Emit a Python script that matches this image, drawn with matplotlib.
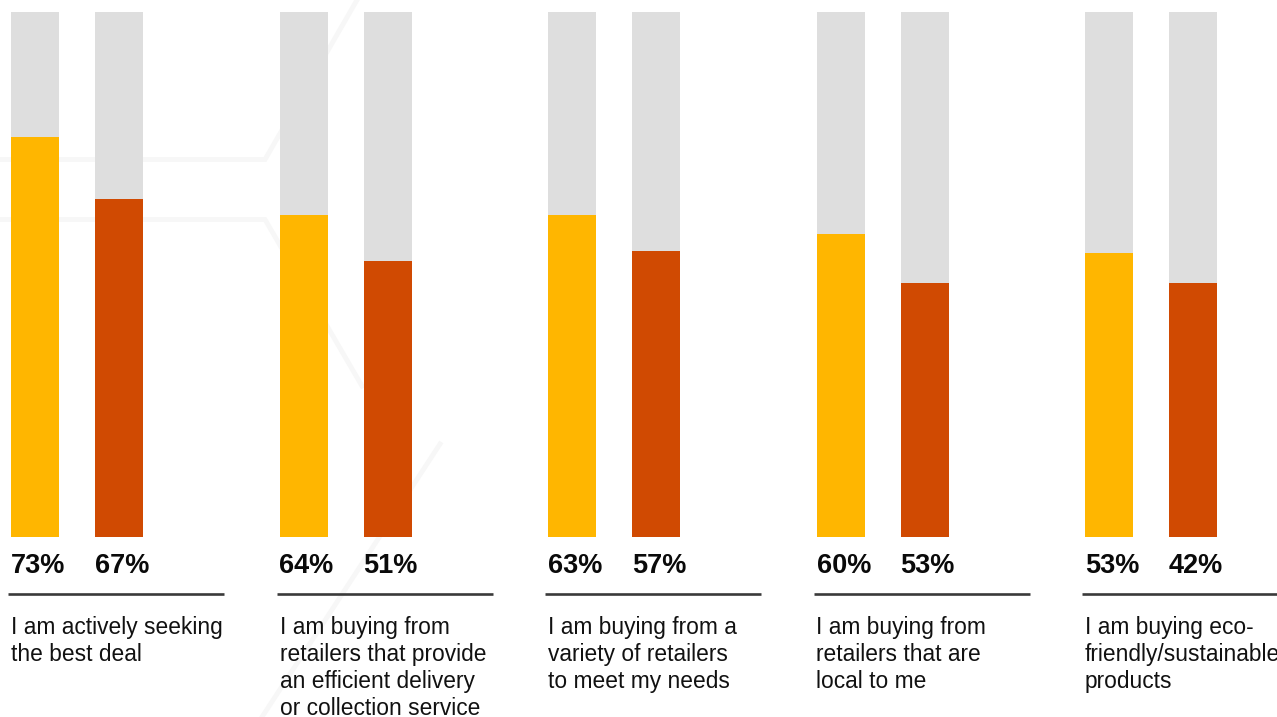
import matplotlib.pyplot as plt
from matplotlib.lines import Line2D
import numpy as np

plt.rcParams['font.family'] = ['Liberation Sans', 'DejaVu Sans']

# categories (description under each group)
categories = [
    "I am actively seeking\nthe best deal",
    "I am buying from\nretailers that provide\nan efficient delivery\nor collection service",
    "I am buying from a\nvariety of retailers\nto meet my needs",
    "I am buying from\nretailers that are\nlocal to me",
    "I am buying eco-\nfriendly/sustainable\nproducts",
]
# printed values
yellow_labels = [73, 64, 63, 60, 53]
red_labels = [67, 51, 57, 53, 42]
# bar heights as drawn in the picture (% of the grey track)
yellow_bar = [76.2, 61.3, 61.3, 57.7, 54.1]
red_bar = [64.4, 52.6, 54.5, 48.4, 48.4]

YELLOW = '#FFB600'
RED = '#D04A02'
GREY = '#DEDEDE'

W, H = 1277, 717
fig = plt.figure(figsize=(W / 100, H / 100), dpi=100)
fig.patch.set_facecolor('white')

# faint hexagon lines in the background (pixel coords, top-left origin)
def bg_line(xs, ys):
    xs = np.array(xs) / W
    ys = 1 - np.array(ys) / H
    fig.add_artist(Line2D(xs, ys, color='#F7F7F7', lw=3.5, zorder=0,
                          solid_joinstyle='miter'))

bg_line([0, 265, 357], [159.5, 159.5, 0])
bg_line([0, 265, 362], [219.5, 219.5, 386])
bg_line([440, 262], [444, 717])

# axes: y from 537px (0) to 12px (100), x in group units
pitch = 268.5
ax = fig.add_axes([0, (H - 537) / H, 1, 525 / H])
ax.set_zorder(1)
ax.patch.set_alpha(0)
ax.set_xlim(-35 / pitch, (W - 35) / pitch)
ax.set_ylim(0, 100)
ax.axis('off')

px = 525 / 100  # pixels per y unit
bw = 48 / pitch
off = 84 / pitch
x = np.arange(len(categories))

ax.bar(x, 100, width=bw, color=GREY, zorder=2)
ax.bar(x + off, 100, width=bw, color=GREY, zorder=2)
ax.bar(x, yellow_bar, width=bw, color=YELLOW, zorder=3)
ax.bar(x + off, red_bar, width=bw, color=RED, zorder=3)

for i in x:
    ax.text(i - bw / 2, -36 / px, f"{yellow_labels[i]}%", fontsize=19.5,
            fontweight='bold', color='#0A0A0A', ha='left', va='baseline',
            clip_on=False)
    ax.text(i + off - bw / 2, -36 / px, f"{red_labels[i]}%", fontsize=19.5,
            fontweight='bold', color='#0A0A0A', ha='left', va='baseline',
            clip_on=False)
    ax.plot([i - 27 / pitch, i + 189 / pitch], [-57 / px, -57 / px],
            color='#3A3A3A', lw=1.9, clip_on=False, solid_capstyle='butt')
    for k, line in enumerate(categories[i].split('\n')):
        ax.text(i - bw / 2, (-97 - 27 * k) / px, line, fontsize=16.4,
                color='#111111', ha='left', va='baseline', clip_on=False)

fig.savefig('out.png', dpi=100, facecolor='white')
